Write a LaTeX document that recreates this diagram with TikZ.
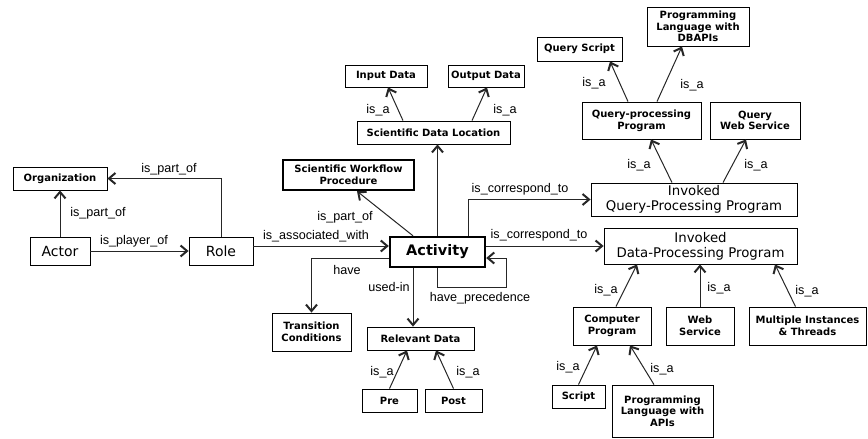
\documentclass[tikz,border=0pt]{standalone}
\usepackage{fontspec}
\usetikzlibrary{arrows.meta}
\newfontfamily\boxfont{DejaVu Sans}
\newfontfamily\lblfont{Liberation Sans}
\begin{document}
\begin{tikzpicture}[x=1pt,y=-1pt,
  box/.style={draw=black,line width=0.8pt,align=center,inner sep=0pt,
    font=\boxfont\bfseries\fontsize{10}{11.6}\selectfont},
  bigbox/.style={draw=black,line width=0.8pt,align=center,inner sep=0pt,
    font=\boxfont\fontsize{13.3}{15}\selectfont},
  thickbox/.style={box,line width=2.4pt},
  lbl/.style={font=\lblfont\fontsize{12.6}{14}\selectfont,inner sep=0pt},
  edge/.style={line width=1pt,draw=black!85,
    -{Straight Barb[length=6.5pt,width=11pt,line width=2pt]}}
]
\useasboundingbox (0,0) rectangle (868,439);
% nodes
\node[box,minimum width=94,minimum height=23] (org) at (60,178.5) {Organization};
\node[bigbox,minimum width=60,minimum height=28,font=\boxfont\fontsize{14}{16}\selectfont] (actor) at (60,251) {Actor};
\node[bigbox,minimum width=64,minimum height=28,font=\boxfont\fontsize{14}{16}\selectfont] (role) at (221,251) {Role};
\node[thickbox,minimum width=95,minimum height=30,font=\boxfont\bfseries\fontsize{14.5}{16}\selectfont] (act) at (437.5,252) {Activity};
\node[thickbox,minimum width=131,minimum height=30] (swp) at (348.5,175) {Scientific Workflow\\Procedure};
\node[box,minimum width=153,minimum height=23] (sdl) at (433.5,132.5) {Scientific Data Location};
\node[box,minimum width=82,minimum height=22] (inp) at (386,76) {Input Data};
\node[box,minimum width=76,minimum height=22] (outp) at (486,76) {Output Data};
\node[bigbox,minimum width=206,minimum height=33] (iqpp) at (694,199.5) {Invoked\\Query-Processing Program};
\node[bigbox,minimum width=193,minimum height=36] (idpp) at (700.5,246) {Invoked\\Data-Processing Program};
\node[box,minimum width=79,minimum height=38] (tc) at (311.5,332) {Transition\\Conditions};
\node[box,minimum width=107,minimum height=23] (rd) at (420.5,338.5) {Relevant Data};
\node[box,minimum width=55,minimum height=23] (pre) at (389.5,400.5) {Pre};
\node[box,minimum width=57,minimum height=23] (post) at (453.5,400.5) {Post};
\node[box,minimum width=85,minimum height=24] (qs) at (579.5,49) {Query Script};
\node[box,minimum width=102,minimum height=39] (dbapi) at (698,26.5) {Programming\\Language with\\DBAPIs};
\node[box,minimum width=119,minimum height=37] (qpp) at (641.5,120.5) {Query-processing\\Program};
\node[box,minimum width=90,minimum height=37] (qws) at (755,120.5) {Query\\Web Service};
\node[box,minimum width=78,minimum height=38] (cp) at (612,326) {Computer\\Program};
\node[box,minimum width=68,minimum height=38] (ws) at (700,326) {Web\\Service};
\node[box,minimum width=117,minimum height=38] (mit) at (807.5,326) {Multiple Instances\\\& Threads};
\node[box,minimum width=53,minimum height=23] (script) at (578.5,396.5) {Script};
\node[box,minimum width=101,minimum height=52] (plapi) at (662.5,411) {Programming\\Language with\\APIs};
% connectors
\draw[edge] (actor) -- (org) node[lbl] (l1) at (98,213) {is\_part\_of};
\draw[edge] (role.north) |- (org.east) node[lbl] (l2) at (169,169) {is\_part\_of};
\draw[edge] (actor) -- (role) node[lbl] (l3) at (134,241) {is\_player\_of};
\draw[edge] (role.east |- idpp.west) -- (act.west |- idpp.west) node[lbl] (l4) at (316,236) {is\_associated\_with};
\draw[edge] ([xshift=-24.5]act.north) -- ([xshift=8.5]swp.south) node[lbl] (l5) at (345,217) {is\_part\_of};
\draw[edge] (act.north) -- (act.north |- sdl.south);
\draw[edge] ([xshift=30.5]act.north) |- (iqpp.west) node[lbl] (l6) at (520,189) {is\_correspond\_to};
\draw[edge] (act.east |- idpp.west) -- (idpp.west) node[lbl] (l7) at (539,235) {is\_correspond\_to};
\draw[edge] (act.south) -- ++(0,19) -| ([xshift=20,yshift=-6]act.east) -- ([yshift=-6]act.east) node[lbl] (l8) at (480,298) {have\_precedence};
\draw[edge] ([yshift=-6]act.west) -| (tc.north) node[lbl] (l9) at (347,270) {have};
\draw[edge] ([xshift=-24.5]act.south) -- ([xshift=-7.5]rd.north) node[lbl] (l10) at (389,287) {used-in};
\draw[edge] (pre.north) -- ([xshift=-13.5]rd.south) node[lbl] (l11) at (382,372) {is\_a};
\draw[edge] (post.north) -- ([xshift=15.5]rd.south) node[lbl] (l12) at (468,372) {is\_a};
\draw[edge] ([xshift=-30.5]sdl.north) -- ([xshift=2]inp.south) node[lbl] (l13) at (378,110) {is\_a};
\draw[edge] ([xshift=38.5]sdl.north) -- ([xshift=1]outp.south) node[lbl] (l14) at (505,110) {is\_a};
\draw[edge] ([xshift=-13.5]qpp.north) -- ([xshift=30.5]qs.south) node[lbl] (l15) at (594,83) {is\_a};
\draw[edge] ([xshift=15.5]qpp.north) -- ([xshift=-16]dbapi.south) node[lbl] (l16) at (692,85) {is\_a};
\draw[edge] ([xshift=-22]iqpp.north) -- ([xshift=9.5]qpp.south) node[lbl] (l17) at (639,165) {is\_a};
\draw[edge] ([xshift=29]iqpp.north) -- ([xshift=-9]qws.south) node[lbl] (l18) at (756,165) {is\_a};
\draw[edge] ([xshift=4]cp.north) -- ([xshift=-63.5]idpp.south) node[lbl] (l19) at (606,290) {is\_a};
\draw[edge] (ws.north) -- (ws.north |- idpp.south) node[lbl] (l20) at (719,288) {is\_a};
\draw[edge] ([xshift=-12]mit.north) -- ([xshift=74.5]idpp.south) node[lbl] (l21) at (807,291) {is\_a};
\draw[edge] (script.north) -- ([xshift=-15]cp.south) node[lbl] (l22) at (568,367) {is\_a};
\draw[edge] ([xshift=-8.5]plapi.north) -- ([xshift=18]cp.south) node[lbl] (l23) at (662,369) {is\_a};
\end{tikzpicture}
\end{document}
